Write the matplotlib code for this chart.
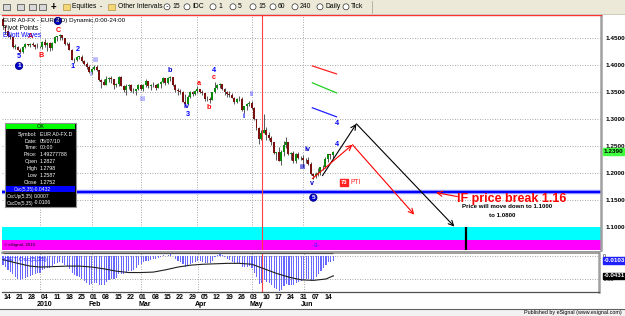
import numpy as np
import matplotlib
matplotlib.use('Agg')
import matplotlib.pyplot as plt
from matplotlib.patches import Rectangle, Circle

plt.rcParams['font.family'] = ['Liberation Sans', 'DejaVu Sans']

W, H = 625, 316

# daily bars, index counts trading days, 0 = Mon 14 Dec 2009
bar_idx = list(range(-1, 134))
opens = [1.4860, 1.4720, 1.4620, 1.4540, 1.4510, 1.4340, 1.4340, 1.4280, 1.4240, 1.4330,
         1.4380, 1.4360, 1.4380, 1.4370, 1.4340, 1.4330, 1.4330, 1.4420, 1.4370, 1.4405,
         1.4310, 1.4410, 1.4520, 1.4530, 1.4560, 1.4490, 1.4380, 1.4390, 1.4280, 1.4100,
         1.4090, 1.4150, 1.4150, 1.4070, 1.4020, 1.3960, 1.3860, 1.3930, 1.3960, 1.3900,
         1.3720, 1.3680, 1.3630, 1.3740, 1.3750, 1.3730, 1.3620, 1.3640, 1.3780, 1.3610,
         1.3540, 1.3610, 1.3620, 1.3510, 1.3520, 1.3550, 1.3630, 1.3560, 1.3630, 1.3700,
         1.3610, 1.3630, 1.3630, 1.3580, 1.3640, 1.3680, 1.3760, 1.3660, 1.3760, 1.3770,
         1.3620, 1.3530, 1.3510, 1.3500, 1.3320, 1.3280, 1.3410, 1.3500, 1.3460, 1.3510,
         1.3560, 1.3500, 1.3470, 1.3360, 1.3360, 1.3350, 1.3490, 1.3580, 1.3620, 1.3640,
         1.3560, 1.3500, 1.3460, 1.3440, 1.3390, 1.3320, 1.3360, 1.3370, 1.3160, 1.3240,
         1.3270, 1.3300, 1.3200, 1.2990, 1.2820, 1.2620, 1.2740, 1.2800, 1.2700, 1.2650,
         1.2560, 1.2360, 1.2380, 1.2220, 1.2380, 1.2520, 1.2560, 1.2350, 1.2370, 1.2220,
         1.2350, 1.2270, 1.2280, 1.2240, 1.2230, 1.2170, 1.1970, 1.1930, 1.1980, 1.1990,
         1.2110, 1.2100, 1.2250, 1.2340, 1.2330]
highs = [1.4890, 1.4730, 1.4640, 1.4580, 1.4520, 1.4390, 1.4350, 1.4310, 1.4350, 1.4400,
         1.4390, 1.4410, 1.4430, 1.4390, 1.4400, 1.4350, 1.4450, 1.4480, 1.4430, 1.4420,
         1.4420, 1.4530, 1.4540, 1.4580, 1.4560, 1.4500, 1.4420, 1.4420, 1.4290, 1.4130,
         1.4170, 1.4170, 1.4190, 1.4100, 1.4050, 1.4000, 1.3940, 1.3990, 1.4000, 1.3910,
         1.3740, 1.3740, 1.3790, 1.3780, 1.3800, 1.3740, 1.3660, 1.3790, 1.3790, 1.3630,
         1.3640, 1.3650, 1.3640, 1.3570, 1.3560, 1.3650, 1.3640, 1.3640, 1.3730, 1.3700,
         1.3650, 1.3680, 1.3640, 1.3660, 1.3700, 1.3780, 1.3760, 1.3770, 1.3790, 1.3780,
         1.3640, 1.3570, 1.3550, 1.3510, 1.3460, 1.3440, 1.3520, 1.3510, 1.3540, 1.3610,
         1.3560, 1.3530, 1.3480, 1.3420, 1.3400, 1.3500, 1.3690, 1.3650, 1.3670, 1.3650,
         1.3580, 1.3520, 1.3520, 1.3480, 1.3400, 1.3390, 1.3420, 1.3400, 1.3240, 1.3290,
         1.3330, 1.3330, 1.3210, 1.3000, 1.2840, 1.2800, 1.3090, 1.2850, 1.2750, 1.2680,
         1.2560, 1.2390, 1.2470, 1.2420, 1.2580, 1.2670, 1.2570, 1.2380, 1.2400, 1.2370,
         1.2390, 1.2300, 1.2330, 1.2280, 1.2290, 1.2190, 1.1990, 1.2010, 1.2090, 1.2110,
         1.2150, 1.2290, 1.2350, 1.2350, 1.2400]
lows = [1.4700, 1.4580, 1.4520, 1.4480, 1.4320, 1.4300, 1.4270, 1.4220, 1.4230, 1.4310,
        1.4350, 1.4330, 1.4350, 1.4300, 1.4320, 1.4310, 1.4300, 1.4340, 1.4260, 1.4260,
        1.4270, 1.4400, 1.4440, 1.4470, 1.4460, 1.4360, 1.4360, 1.4270, 1.4090, 1.4030,
        1.4070, 1.4110, 1.4050, 1.4000, 1.3930, 1.3850, 1.3840, 1.3900, 1.3880, 1.3710,
        1.3580, 1.3620, 1.3630, 1.3690, 1.3670, 1.3550, 1.3590, 1.3600, 1.3600, 1.3490,
        1.3440, 1.3550, 1.3500, 1.3480, 1.3440, 1.3540, 1.3530, 1.3510, 1.3590, 1.3570,
        1.3540, 1.3590, 1.3530, 1.3570, 1.3580, 1.3660, 1.3630, 1.3650, 1.3710, 1.3600,
        1.3490, 1.3450, 1.3460, 1.3310, 1.3270, 1.3280, 1.3390, 1.3420, 1.3440, 1.3480,
        1.3470, 1.3440, 1.3330, 1.3330, 1.3300, 1.3340, 1.3480, 1.3550, 1.3570, 1.3530,
        1.3440, 1.3410, 1.3400, 1.3380, 1.3270, 1.3290, 1.3330, 1.3150, 1.3110, 1.3170,
        1.3240, 1.3180, 1.2980, 1.2800, 1.2530, 1.2600, 1.2740, 1.2600, 1.2600, 1.2520,
        1.2350, 1.2230, 1.2210, 1.2140, 1.2300, 1.2450, 1.2330, 1.2240, 1.2180, 1.2180,
        1.2250, 1.2230, 1.2110, 1.2180, 1.2150, 1.1960, 1.1880, 1.1900, 1.1930, 1.1960,
        1.2050, 1.2090, 1.2200, 1.2260, 1.2270]
closes = [1.4720, 1.4620, 1.4540, 1.4510, 1.4340, 1.4340, 1.4280, 1.4240, 1.4330, 1.4380,
          1.4360, 1.4380, 1.4370, 1.4340, 1.4330, 1.4330, 1.4420, 1.4370, 1.4405, 1.4310,
          1.4410, 1.4520, 1.4530, 1.4560, 1.4490, 1.4380, 1.4390, 1.4280, 1.4100, 1.4090,
          1.4150, 1.4150, 1.4070, 1.4020, 1.3960, 1.3860, 1.3930, 1.3960, 1.3900, 1.3720,
          1.3680, 1.3630, 1.3740, 1.3750, 1.3730, 1.3620, 1.3640, 1.3780, 1.3610, 1.3540,
          1.3610, 1.3620, 1.3510, 1.3520, 1.3550, 1.3630, 1.3560, 1.3630, 1.3700, 1.3610,
          1.3630, 1.3630, 1.3580, 1.3640, 1.3680, 1.3760, 1.3660, 1.3760, 1.3770, 1.3620,
          1.3530, 1.3510, 1.3500, 1.3320, 1.3280, 1.3410, 1.3500, 1.3460, 1.3510, 1.3560,
          1.3500, 1.3470, 1.3360, 1.3360, 1.3350, 1.3490, 1.3580, 1.3620, 1.3640, 1.3560,
          1.3500, 1.3460, 1.3440, 1.3390, 1.3320, 1.3360, 1.3370, 1.3160, 1.3240, 1.3270,
          1.3300, 1.3200, 1.2990, 1.2820, 1.2620, 1.2740, 1.2800, 1.2700, 1.2650, 1.2560,
          1.2360, 1.2380, 1.2220, 1.2380, 1.2520, 1.2560, 1.2350, 1.2370, 1.2220, 1.2350,
          1.2270, 1.2280, 1.2240, 1.2230, 1.2170, 1.1970, 1.1930, 1.1980, 1.1990, 1.2110,
          1.2100, 1.2250, 1.2340, 1.2330, 1.2390]

# Osc(5,35) histogram and its black line
osc_vals = [-0.020, -0.025, -0.030, -0.035, -0.040, -0.045,
            -0.050, -0.052, -0.050, -0.048, -0.046,
            -0.044, -0.042, -0.040, -0.038, -0.036,
            -0.030, -0.028, -0.026, -0.026, -0.022,
            -0.018, -0.016, -0.014, -0.015, -0.020,
            -0.022, -0.028, -0.036, -0.042, -0.044,
            -0.046, -0.050, -0.054, -0.058, -0.062,
            -0.060, -0.058, -0.058, -0.062, -0.064,
            -0.062, -0.056, -0.052, -0.050, -0.050,
            -0.048, -0.040, -0.040, -0.040, -0.036,
            -0.032, -0.032, -0.030, -0.026, -0.020,
            -0.018, -0.014, -0.010, -0.010, -0.008,
            -0.006, -0.006, -0.004, -0.002, 0.002,
            0.001, 0.003, 0.004, -0.001, -0.006,
            -0.010, -0.012, -0.018, -0.024, -0.022,
            -0.018, -0.016, -0.014, -0.010, -0.010,
            -0.012, -0.016, -0.016, -0.016, -0.010,
            -0.002, 0.002, 0.004, 0.003, -0.002,
            -0.006, -0.008, -0.012, -0.016, -0.016,
            -0.016, -0.024, -0.024, -0.024, -0.022,
            -0.026, -0.036, -0.046, -0.060, -0.058,
            -0.052, -0.056, -0.058, -0.062, -0.070,
            -0.072, -0.076, -0.074, -0.066, -0.060,
            -0.062, -0.062, -0.062, -0.058, -0.056,
            -0.054, -0.052, -0.050, -0.050, -0.054,
            -0.052, -0.046, -0.040, -0.032, -0.026,
            -0.020, -0.014, -0.012, -0.0103]
sig_idx = [-1, 5, 10, 14, 20, 25, 30, 35, 40, 45, 50, 55, 60, 65, 70, 75, 80,
           85, 90, 95, 100, 105, 110, 115, 120, 125, 130, 133]
sig_vals = [-0.008, -0.016, -0.022, -0.024, -0.023, -0.022, -0.022, -0.024, -0.028,
            -0.033, -0.036, -0.036, -0.035, -0.030, -0.024, -0.020, -0.018, -0.017,
            -0.016, -0.016, -0.018, -0.028, -0.038, -0.046, -0.052, -0.053, -0.050,
            -0.0431]
osc_up_level = 0.006

price_ticks = [1.10, 1.15, 1.20, 1.25, 1.30, 1.35, 1.40, 1.45]
month_idx = [14, 35, 55, 78, 100, 121]
month_names = ['2010', 'Feb', 'Mar', 'Apr', 'May', 'Jun']
week_idx = list(range(0, 131, 5))
week_labels = ['14', '21', '28', '04', '11', '18', '25', '01', '08', '15', '22', '01', '08',
               '15', '22', '29', '05', '12', '19', '26', '03', '10', '17', '24', '31', '07', '14']

# Elliott wave labels: (text, colour, index, price)
waves = [('5', '#0000ff', 5.5, 1.4148), ('A', '#ff0000', 10.3, 1.4519),
         ('B', '#ff0000', 14.4, 1.4167), ('C', '#ff0000', 21.3, 1.4630),
         ('2', '#0000ff', 29.4, 1.4278), ('1', '#0000ff', 27.4, 1.3963),
         ('iii', '#8080ff', 36.7, 1.4074), ('i', '#8080ff', 34.7, 1.3815),
         ('iii', '#8080ff', 55.8, 1.3352), ('b', '#0000cc', 66.7, 1.3889),
         ('iv', '#0000cc', 73.6, 1.3222), ('3', '#0000ff', 74.0, 1.3074),
         ('a', '#ff0000', 78.5, 1.3648), ('b', '#ff0000', 82.6, 1.3204),
         ('4', '#0000ff', 84.6, 1.3889), ('c', '#ff0000', 84.6, 1.3759),
         ('ii', '#6060ff', 100.0, 1.3444), ('i', '#0000ff', 96.8, 1.3037),
         ('iv', '#0000cc', 122.7, 1.2426), ('iii', '#0000cc', 120.7, 1.2093),
         ('v', '#0000cc', 124.7, 1.1796), ('4', '#0000ff', 134.5, 1.2907),
         ('4', '#0000ff', 134.5, 1.2519)]
circled = [('1', 5.5, 1.3981), ('2', 21.3, 1.4815), ('5', 125.1, 1.1537)]

# short channel lines at the end of the data
channels = [('#ff2020', [124.7, 134.5], [1.3981, 1.3833]),
            ('#20d020', [124.7, 134.5], [1.3667, 1.3481]),
            ('#2020ff', [124.7, 134.5], [1.3204, 1.3037])]

# projected paths
black_path = [(128.8, 1.1944), (142.6, 1.2907), (182.4, 1.1000)]
red_path = [(124.7, 1.1889), (141.0, 1.2519), (166.1, 1.1222)]
break_level = 1.1648
target_top, target_mid = 1.100, 1.0759
cursor_idx = 104.1
target_marker_idx = 187.2

ylo, yhi = 1.0574, 1.4926
xlo, xhi = -1.42, 242.0


def px_axes(fig, x0, y0, x1, y1, **kw):
    return fig.add_axes([x0 / W, 1 - y1 / H, (x1 - x0) / W, (y1 - y0) / H], **kw)


fig = plt.figure(figsize=(W / 100, H / 100), dpi=100)
fig.patch.set_facecolor('white')

# ---- price pane
ax = px_axes(fig, 2, 15, 601, 249.5)
ax.set_xlim(xlo, xhi)
ax.set_ylim(ylo, yhi)
ax.set_xticks(month_idx)
ax.set_xticklabels([])
ax.set_yticks(price_ticks)
ax.set_yticklabels(['%.4f' % v for v in price_ticks])
ax.yaxis.tick_right()
ax.tick_params(length=0, labelsize=4.6, pad=3)
for t in ax.get_yticklabels():
    t.set_fontweight('bold')
ax.grid(True, color='#8a8a8a', ls=(0, (1, 2)), lw=0.6)
ax.set_axisbelow(True)
for s in ['left', 'bottom']:
    ax.spines[s].set_visible(False)
ax.spines['top'].set_color('#ff3030')
ax.spines['top'].set_linewidth(1.0)
ax.spines['right'].set_color('#a0a0a0')
ax.spines['right'].set_linewidth(1.8)

ax.axhspan(target_mid, target_top, color='#00ffff', lw=0, zorder=1)
ax.axhspan(ylo, target_mid, color='#ff00ff', lw=0, zorder=1)
ax.vlines(target_marker_idx, ylo, target_top, color='black', lw=1.6, zorder=3)
ax.text(126.4, 1.0648, '-3-', color='#2020ff', fontsize=4.5, ha='center', va='center', zorder=3)
ax.text(0.004, 0.012, '\u00a9 eSignal, 2010', transform=ax.transAxes, fontsize=3.2,
        color='black', va='bottom', zorder=3)

ax.axhline(break_level, color='#a0a0ff', lw=3.2, zorder=2)
ax.axhline(break_level, color='#0000ff', lw=1.6, zorder=2)
ax.axvline(cursor_idx, color='#ff4040', lw=0.8, zorder=2)

o = np.array(opens)
c = np.array(closes)
up = c >= o
bottoms = np.minimum(o, c)
heights = np.maximum(np.abs(c - o), 0.0006)
body_cols = np.where(up, '#0a8a0a', '#7a1010')
ax.vlines(bar_idx, lows, highs, color='#3c3c3c', lw=0.6, zorder=4)
ax.bar(bar_idx, heights, bottom=bottoms, width=0.8, color=body_cols, lw=0, zorder=5)

for txt, col, xi, yv in waves:
    ax.text(xi, yv, txt, color=col, fontsize=5.2, ha='center', va='center',
            fontweight='bold', zorder=6)
for txt, xi, yv in circled:
    ax.text(xi, yv, txt, color='white', fontsize=4.6, ha='center', va='center', fontweight='bold',
            bbox=dict(boxstyle='circle,pad=0.18', fc='#0000cc', ec='#000080', lw=0.6), zorder=6)
for col, xs, ys in channels:
    ax.plot(xs, ys, color=col, lw=0.9, zorder=6)

for path, col in [(black_path, 'black'), (red_path, '#ff0000')]:
    for (x0, y0), (x1, y1) in zip(path[:-1], path[1:]):
        ax.annotate('', xy=(x1, y1), xytext=(x0, y0),
                    arrowprops=dict(arrowstyle='->', color=col, lw=0.8,
                                    mutation_scale=9, shrinkA=0, shrinkB=0), zorder=7)
ax.annotate('', xy=(175.0, 1.1630), xytext=(183.6, 1.1556),
            arrowprops=dict(arrowstyle='->', color='#ff0000', lw=0.8,
                            mutation_scale=9, shrinkA=0, shrinkB=0), zorder=7)

ax.text(183.6, 1.1519, 'IF price break 1.16', color='#ff0000', fontsize=9, fontweight='bold',
        ha='left', va='center', zorder=8)
ax.text(203.9, 1.1370, 'Price will move down to 1.1000', color='black', fontsize=4.4,
        fontweight='bold', ha='center', va='center', zorder=8)
ax.text(201.8, 1.1204, 'to 1.0800', color='black', fontsize=4.4, fontweight='bold',
        ha='center', va='center', zorder=8)
ax.text(137.7, 1.1815, '73', color='white', fontsize=4.2, fontweight='bold', ha='center',
        va='center', bbox=dict(boxstyle='square,pad=0.12', fc='#ff2020', ec='#ff2020'), zorder=8)
ax.text(140.0, 1.1815, 'PTI', color='#ff2020', fontsize=4.8, ha='left', va='center', zorder=8)

ax.text(0.002, 0.988, 'EUR A0-FX - EURO(D) Dynamic,0:00-24:00', transform=ax.transAxes,
        fontsize=4.5, va='top', color='black', zorder=8)
ax.text(0.002, 0.958, 'Pivot Points', transform=ax.transAxes, fontsize=4.8, va='top',
        color='black', zorder=8)
ax.text(0.002, 0.926, 'Elliott Waves', transform=ax.transAxes, fontsize=4.8, va='top',
        color='#0000ff', zorder=8)

ax.text(1.004, closes[-1], '%.4f' % closes[-1], transform=ax.get_yaxis_transform(),
        fontsize=4.6, fontweight='bold', color='black', va='center', ha='left',
        bbox=dict(boxstyle='square,pad=0.12', fc='#40ff40', ec='#40ff40'))

# ---- oscillator pane
ax2 = px_axes(fig, 2, 253, 599, 292)
ax2.set_xlim(xlo, (599 - 5.5) / 2.465)
ax2.set_ylim(-0.0783, 0.0065)
ax2.set_xticks(month_idx)
ax2.set_xticklabels([])
ax2.set_yticks([0, -0.05])
ax2.set_yticklabels(['0', '-0.05'])
ax2.yaxis.tick_right()
ax2.tick_params(length=0, labelsize=3.6, pad=3)
ax2.grid(True, color='#8a8a8a', ls=(0, (1, 2)), lw=0.6)
ax2.set_axisbelow(True)
ax2.spines['left'].set_visible(False)
ax2.spines['top'].set_color('#8c8c8c')
ax2.spines['top'].set_linewidth(1.2)
ax2.spines['bottom'].set_color('#505050')
ax2.spines['bottom'].set_linewidth(0.9)
ax2.spines['right'].set_color('#a0a0a0')
ax2.spines['right'].set_linewidth(1.8)

ax2.bar(bar_idx, osc_vals, width=0.45, color='#6868ff', lw=0, zorder=3)
ax2.plot(sig_idx, sig_vals, color='#202020', lw=0.8, zorder=4)
ax2.hlines(osc_up_level, bar_idx[0], bar_idx[-1], color='#505050', lw=0.9, zorder=4)
ax2.axvline(cursor_idx, color='#ff4040', lw=0.8, zorder=2)
ax2.text(0.003, 0.9, 'GET Osc(5,35)', transform=ax2.transAxes, fontsize=4.6,
         color='#2020ff', va='top', zorder=5)
ax2.text(1.008, osc_vals[-1], '%.4f' % osc_vals[-1], transform=ax2.get_yaxis_transform(),
         fontsize=4.5, fontweight='bold', color='white', va='center', ha='left',
         bbox=dict(boxstyle='square,pad=0.12', fc='#2020ff', ec='#2020ff'))
ax2.text(1.008, sig_vals[-1], '%.4f' % sig_vals[-1], transform=ax2.get_yaxis_transform(),
         fontsize=4.5, fontweight='bold', color='white', va='center', ha='left',
         bbox=dict(boxstyle='square,pad=0.12', fc='black', ec='black'))

xt = ax2.get_xaxis_transform()
for i, lab in zip(week_idx, week_labels):
    ax2.text(i + 0.8, -0.13, lab, transform=xt, fontsize=5, fontweight='bold',
             ha='center', va='center', clip_on=False)
for i, lab in zip(month_idx, month_names):
    ax2.text(i - 1.2, -0.31, lab, transform=xt, fontsize=5, fontweight='bold',
             ha='left', va='center', clip_on=False)

# ---- window chrome (toolbar, data window, footer) in pixel coords
ui = fig.add_axes([0, 0, 1, 1], zorder=10)
ui.set_xlim(0, W)
ui.set_ylim(H, 0)
ui.axis('off')
ui.patch.set_alpha(0)

ui.add_patch(Rectangle((0, 0), W, 13.5, fc='#ece9d8', ec='none'))
ui.plot([0, W], [13.5, 13.5], color='#c8c4b4', lw=0.6)
ui.plot([372, 372], [1, 12.5], color='#b0ac9c', lw=0.6)
for x0 in [3, 17, 29, 39]:
    ui.add_patch(Rectangle((x0, 3.5), 7, 6.5, fc='#d8d8d8', ec='#404040', lw=0.5))
ui.text(53, 6.8, '+', fontsize=7, fontweight='bold', ha='center', va='center')
tool_items = [(63, 'Equities  -'), (108, 'Other Intervals  -')]
for x0, txt in tool_items:
    ui.add_patch(Rectangle((x0, 3.5), 7, 6, fc='#f4d878', ec='#a08030', lw=0.4))
    ui.text(x0 + 9.5, 6.8, txt, fontsize=4.9, ha='left', va='center')
intervals = [(167, '15'), (187, 'IDC'), (213, '1'), (233, '5'), (253, '15'), (273, '60'),
             (295, '240'), (320, 'Daily'), (346, 'Tick')]
for x0, txt in intervals:
    ui.add_patch(Circle((x0, 6.8), 3.0, fc='white', ec='#303030', lw=0.5))
    ui.text(x0 + 5, 6.8, txt, fontsize=4.9, ha='left', va='center')

# data window
ui.add_patch(Rectangle((5, 123), 71, 84, fc='black', ec='#909090', lw=0.8))
ui.add_patch(Rectangle((5.6, 123.6), 69.8, 5.6, fc='#00ff00', ec='none'))
ui.text(40.5, 126.4, 'OK', fontsize=4.0, ha='center', va='center', color='black')
rows = [('Symbol:', 'EUR A0-FX.D'), ('Date:', '05/07/10'), ('Time:', '00:00'),
        ('Price:', '1.49277788'), ('Open', '1.2827'), ('High', '1.2798'),
        ('Low', '1.2587'), ('Close', '1.2752')]
for k, (lab, val) in enumerate(rows):
    yy = 134.2 + k * 6.85
    ui.text(37.5, yy, lab, fontsize=3.8, color='white', ha='right', va='center')
    ui.text(39.5, yy, val, fontsize=3.8, color='white', ha='left', va='center')
ui.add_patch(Rectangle((5.6, 186), 69.8, 6.2, fc='#0000ff', ec='none'))
osc_rows = [('Osc(5,35)', '-0.0432', 13.5), ('OscUp(5,35)', '0.0007', 7),
            ('OscDn(5,35)', '-0.0106', 7)]
for k, (lab, val, x0) in enumerate(osc_rows):
    yy = 189.2 + k * 6.9
    ui.text(x0, yy, lab, fontsize=3.3, color='white', ha='left', va='center')
    ui.text(33.5, yy, val, fontsize=3.6, color='white', ha='left', va='center')

# separators and footer
ui.plot([2, 601], [250.6, 250.6], color='#9a9a9a', lw=0.7)
ui.plot([0, W], [309, 309], color='#606060', lw=0.8)
ui.add_patch(Rectangle((0, 309.4), W, 7, fc='#f2f2f2', ec='none'))
ui.text(622, 312.6, 'Published by eSignal (www.esignal.com)', fontsize=3.9,
        ha='right', va='center', color='black')

fig.savefig('out.png', dpi=100)
